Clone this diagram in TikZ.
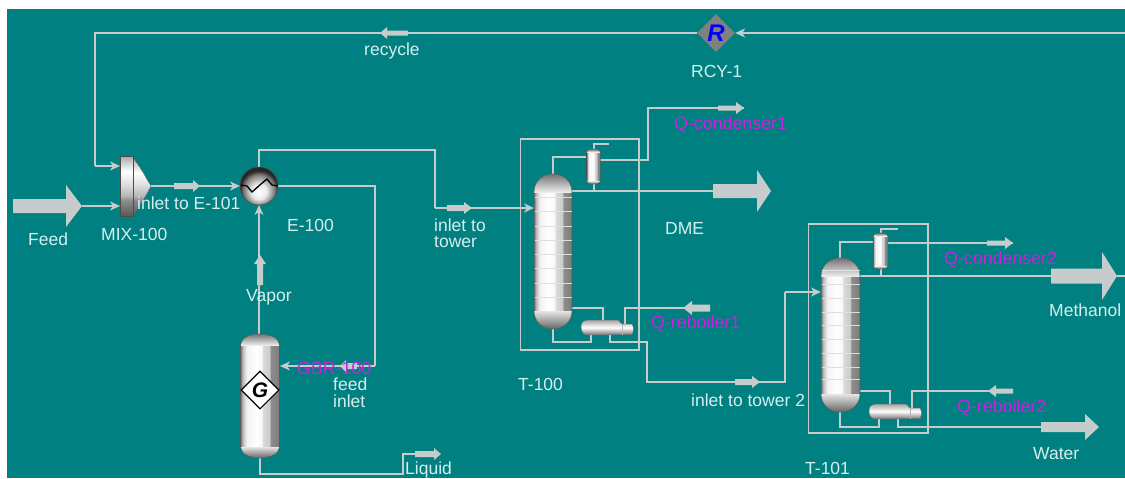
\documentclass[tikz,border=0pt]{standalone}
\usepackage{fontspec}
\setmainfont{Liberation Sans}
\usetikzlibrary{arrows.meta,shapes.geometric,calc}
\definecolor{tealbg}{HTML}{008080}
\definecolor{pipe}{HTML}{C6CCCC}
\definecolor{lbl}{HTML}{D6EEEE}
\definecolor{qlbl}{HTML}{C822E0}
\pgfdeclarehorizontalshading{vesselh}{100bp}{color(0bp)=(black!55);color(25bp)=(black!55);color(28bp)=(black!25);color(33bp)=(black!5);color(45bp)=(white);color(52bp)=(black!3);color(54bp)=(black!15);color(62bp)=(black!20);color(64bp)=(black!45);color(73bp)=(black!50);color(75bp)=(black!60);color(100bp)=(black!60)}
\pgfdeclareverticalshading{mixv}{100bp}{color(0bp)=(black!65);color(25bp)=(black!65);color(38bp)=(black!45);color(42bp)=(black!28);color(52bp)=(black!12);color(62bp)=(white);color(68bp)=(black!15);color(75bp)=(black!35);color(100bp)=(black!35)}
\pgfdeclareradialshading{heatb}{\pgfpoint{0bp}{-9bp}}{color(0bp)=(white);color(10bp)=(black!8);color(20bp)=(black!50);color(25bp)=(black!85);color(50bp)=(black!85)}
\tikzset{
  stream/.style={draw=pipe,line width=2.1pt,line join=miter},
  thinpipe/.style={draw=pipe,line width=1.5pt},
  feedin/.style={stream,-{Stealth[length=10pt,width=9pt,inset=3pt]}},
  frame/.style={draw=pipe,line width=1.5pt},
  txt/.style={text=lbl,font=\fontsize{17.5}{19}\selectfont,inner sep=0pt,anchor=west},
  qtxt/.style={text=qlbl,font=\fontsize{17.8}{19}\selectfont,inner sep=0pt,anchor=west},
  block/.style={fill=pipe,draw=none},
  tray/.style={draw=black!12,line width=0.8pt},
}
% tail x, head-base x, tip x, y, half body, half head
\newcommand\blockarrow[6]{\fill[block] (#1,#4-#5) -- (#2,#4-#5) -- (#2,#4-#6) -- (#3,#4) -- (#2,#4+#6) -- (#2,#4+#5) -- (#1,#4+#5) -- cycle;}
% cx, top, bottom, half width, cap height
\newcommand\vesselshape[5]{(#1-#4,#2+#5) .. controls (#1-#4,#2+0.4*#5) and (#1-0.55*#4,#2) .. (#1,#2) .. controls (#1+0.55*#4,#2) and (#1+#4,#2+0.4*#5) .. (#1+#4,#2+#5) -- (#1+#4,#3-#5) .. controls (#1+#4,#3-0.4*#5) and (#1+0.55*#4,#3) .. (#1,#3) .. controls (#1-0.55*#4,#3) and (#1-#4,#3-0.4*#5) .. (#1-#4,#3-#5) -- cycle}
\newcommand\vessel[5]{%
  \begin{scope}
    \clip \vesselshape{#1}{#2}{#3}{#4}{#5};
    \shade[shading=vesselh] (#1-#4,#2) rectangle (#1+#4,#3);
    \shade[top color=black!55,bottom color=black!8] (#1-#4,#2) rectangle (#1+#4,#2+#5);
    \shade[top color=black!10,bottom color=black!60] (#1-#4,#3-#5) rectangle (#1+#4,#3);
  \end{scope}
  \draw[black!65,line width=0.6pt] \vesselshape{#1}{#2}{#3}{#4}{#5};
}
% reboiler: left x, top y
\newcommand\reboiler[2]{%
  \begin{scope}[shift={(#1,#2)}]
    \shade[top color=black!35,bottom color=black!55,middle color=white] (0,7) .. controls (0,2) and (3,0) .. (6,0) -- (37,0) -- (41,4) -- (51,4) .. controls (53,7) and (53,11) .. (51,14.5) -- (6,15) .. controls (3,15) and (0,12) .. (0,7) -- cycle;
    \draw[black!55,line width=0.5pt] (0,7) .. controls (0,2) and (3,0) .. (6,0) -- (37,0) -- (41,4) -- (51,4) .. controls (53,7) and (53,11) .. (51,14.5) -- (6,15) .. controls (3,15) and (0,12) .. (0,7) -- cycle;
    \draw[black!30,line width=0.5pt] (41,4) -- (41,14.8);
  \end{scope}
}
\begin{document}
\begin{tikzpicture}[x=1pt,y=-1pt]
\useasboundingbox (0,0) rectangle (1125,479);
\fill[white] (0,0) rectangle (1125,479);
\fill[tealbg] (7,9) rectangle (1125,478);

% unit frames
\draw[frame] (520.5,139) rectangle (639,350);
\draw[frame] (808.5,224) rectangle (928,433);

% ports and way points
\coordinate (edgeR) at (1125,33);
\coordinate (recW) at (95,33);
\coordinate (mixA) at (120,166);
\coordinate (mixB) at (120,206);
\coordinate (mixO) at (150,186);
\coordinate (feedT) at (82,206);
\coordinate (hW) at (240,186);
\coordinate (hN) at (259,167);
\coordinate (hS) at (259,205);
\coordinate (hE) at (278,186);
\coordinate (w1) at (435,150);
\coordinate (w2) at (435,208);
\coordinate (t1in) at (534,208);
\coordinate (w3) at (375,366);
\coordinate (gIn) at (280,366);
\coordinate (gN) at (260,335);
\coordinate (gS) at (260,458);
\coordinate (w4) at (403,474);
\coordinate (liqT) at (440,454);
\coordinate (t1N) at (553,174);
\coordinate (c1W) at (587,157);
\coordinate (c1E) at (600,160);
\coordinate (q1a) at (648,108);
\coordinate (q1b) at (744,108);
\coordinate (t1E) at (571,191);
\coordinate (dme) at (760,191);
\coordinate (r1a) at (603,320);
\coordinate (t1Eb) at (571,308);
\coordinate (t1S) at (553,329);
\coordinate (r1b) at (591,335);
\coordinate (r1o) at (610,335);
\coordinate (w5) at (647,342);
\coordinate (w6) at (785,382);
\coordinate (t2in) at (821,292);
\coordinate (r1q) at (625,328);
\coordinate (q2r) at (690,308);
\coordinate (t2N) at (840,258);
\coordinate (c2W) at (873,242);
\coordinate (c2E) at (888,243);
\coordinate (q3) at (1013,243);
\coordinate (t2E) at (860,276);
\coordinate (meth) at (1125,276);
\coordinate (t2Eb) at (860,391);
\coordinate (r2a) at (890,405);
\coordinate (t2S) at (840,412);
\coordinate (r2b) at (879,419);
\coordinate (r2o) at (898,419);
\coordinate (wat) at (1060,427);
\coordinate (r2q) at (912,413);
\coordinate (q4r) at (1000,391);

% recycle
\node[diamond,fill=black!50,draw=none,minimum width=38pt,minimum height=38pt,inner sep=0pt,text=blue,font=\fontsize{24}{24}\selectfont\bfseries\itshape] (rcy) at (716,33) {R};
\draw[feedin] (edgeR) -- (rcy.east);
\draw[stream] (rcy.west) -- (recW) -- (recW |- mixA);
\draw[feedin] (recW |- mixA) -- (mixA);

% streams
\draw[feedin] (feedT) -- (mixB);
\draw[feedin] (mixO) -- (hW);
\draw[stream] (hN) -- (hN |- w1) -- (w1) -- (w2) -- (w2 -| w1);
\draw[feedin] (w2) -- (t1in);
\draw[stream] (hE) -- (hE -| w3) -- (w3);
\draw[feedin] (w3) -- (gIn);
\draw[feedin] (gN) -- (gN -| hS) -- (hS);
\draw[stream] (gS) -- (gS |- w4) -- (w4) -- (w4 |- liqT) -- (liqT);

\draw[thinpipe] (t1N) -- (t1N |- c1W) -- (c1W);
\draw[stream] (c1E) -- (c1E -| q1a) -- (q1a) -- (q1b);
\draw[stream] (t1E) -- (dme);
\draw[thinpipe] (594,149) -- (594,144) -- (609,144);
\draw[thinpipe] (594,183) -- (594,191);
\draw[thinpipe] (t1Eb) -- (t1Eb -| r1a) -- (r1a);
\draw[thinpipe] (t1S) -- (553,342) -- (591,342) -- (r1b);
\draw[stream] (r1o) -- (610,342) -- (w5) -- (647,382) -- (w6) -- (w6 |- t2in);
\draw[feedin] (w6 |- t2in) -- (t2in);
\draw[thinpipe] (r1q) -- (r1q |- q2r) -- (q2r);

\draw[thinpipe] (t2N) -- (t2N |- c2W) -- (c2W);
\draw[stream] (c2E) -- (q3);
\draw[stream] (t2E) -- (meth);
\draw[thinpipe] (881,233) -- (881,229) -- (898,229);
\draw[thinpipe] (881,269) -- (881,276);
\draw[thinpipe] (t2Eb) -- (t2Eb -| r2a) -- (r2a);
\draw[thinpipe] (t2S) -- (840,427) -- (879,427) -- (r2b);
\draw[stream] (r2o) -- (898,427) -- (wat);
\draw[thinpipe] (r2q) -- (r2q |- q4r) -- (q4r);

% flow markers
\blockarrow{408}{387}{380}{33}{2.5}{6}
\blockarrow{174}{193}{200}{186}{3}{6}
\blockarrow{447}{464}{472}{208}{3}{6}
\blockarrow{357}{346}{340}{366}{3}{6}
\blockarrow{415}{434}{441}{454}{3}{6}
\blockarrow{718}{736}{744}{108}{2.5}{6}
\blockarrow{735}{752}{760}{382}{3}{6}
\blockarrow{710}{692}{683}{308}{3.5}{7}
\blockarrow{987}{1005}{1013}{243}{2.5}{6}
\blockarrow{1013}{996}{988}{391}{2.5}{6}
\fill[block] (257,285) -- (257,264) -- (254,264) -- (260,255) -- (266,264) -- (263,264) -- (263,285) -- cycle;
% large product arrows
\blockarrow{13}{66}{82}{206}{7}{21}
\blockarrow{713}{757}{771}{191}{7}{21}
\blockarrow{1051}{1102}{1117}{276}{7.5}{24}
\blockarrow{1041}{1085}{1099}{427}{5}{13}

% mixer
\shade[shading=mixv] (133,158) .. controls (140,166) and (146,178) .. (151,186) .. controls (146,196) and (140,206) .. (133,215) -- cycle;
\draw[black!60,line width=0.4pt] (133,158) .. controls (140,166) and (146,178) .. (151,186) .. controls (146,196) and (140,206) .. (133,215);
\node[rectangle,draw=black!70,line width=0.8pt,shading=mixv,minimum width=13pt,minimum height=60pt,inner sep=0pt] (mix) at (126.5,186) {};

% heater
\node[circle,shading=heatb,draw=black!70,line width=0.5pt,minimum size=38pt,inner sep=0pt] (heat) at (259,186) {};
\draw[black,line width=1.3pt] (241,185) -- (247,186) -- (252,192) -- (261,184) -- (267,179) -- (272,185) -- (278,186);

% flash drum
\vessel{260}{334}{458}{19.5}{11}
\node[diamond,fill=white,draw=black,line width=1.1pt,minimum width=38pt,minimum height=38pt,inner sep=0pt,font=\fontsize{21}{21}\selectfont\bfseries\itshape] (gbr) at (260,390) {G};

% T-100
\vessel{553}{174}{329}{19}{18}
\foreach \yy in {197,211,226,240,254,268,283,297} {\draw[tray] (534.5,\yy) -- (571.5,\yy);}
\vessel{593.5}{149}{184}{6.8}{3}
\reboiler{581}{320}

% T-101
\vessel{840.5}{258}{412}{19.5}{18}
\foreach \yy in {270,284,298,312,325,339,353,367,379} {\draw[tray] (821.5,\yy) -- (859.5,\yy);}
\vessel{880.5}{233}{269}{7.3}{3}
\reboiler{869}{404}

% labels
\node[txt] (lfeed) at (28,239) {Feed};
\node[txt] (lmix) at (101,234) {MIX-100};
\node[txt] (linl) at (137,203) {inlet to E-101};
\node[txt] (lh) at (287,225) {E-100};
\node[txt] (lrec) at (364,51) {recycle};
\node[txt] (lrcy) at (691,71) {RCY-1};
\node[txt] (lit1) at (434,225) {inlet to};
\node[txt] (lit2) at (434,242) {tower};
\node[txt] (lvap) at (246,297) {Vapor};
\node[qtxt] (lgbr) at (297,368) {GBR-100};
\node[txt] (lf1) at (333,384) {feed};
\node[txt] (lf2) at (333,401) {inlet};
\node[txt] (lliq) at (405,470) {Liquid};
\node[qtxt] (lq1) at (674,125) {Q-condenser1};
\node[txt] (ldme) at (665,228) {DME};
\node[txt] (lt1) at (518,384) {T-100};
\node[qtxt] (lq2) at (651,324) {Q-reboiler1};
\node[txt] (lit3) at (691,400) {inlet to tower 2};
\node[qtxt] (lq3) at (944,260) {Q-condenser2};
\node[txt] (lmeth) at (1049,310) {Methanol};
\node[qtxt] (lq4) at (957,408) {Q-reboiler2};
\node[txt] (lwat) at (1033,454) {Water};
\node[txt] (lt2) at (805,468) {T-101};
\end{tikzpicture}
\end{document}
